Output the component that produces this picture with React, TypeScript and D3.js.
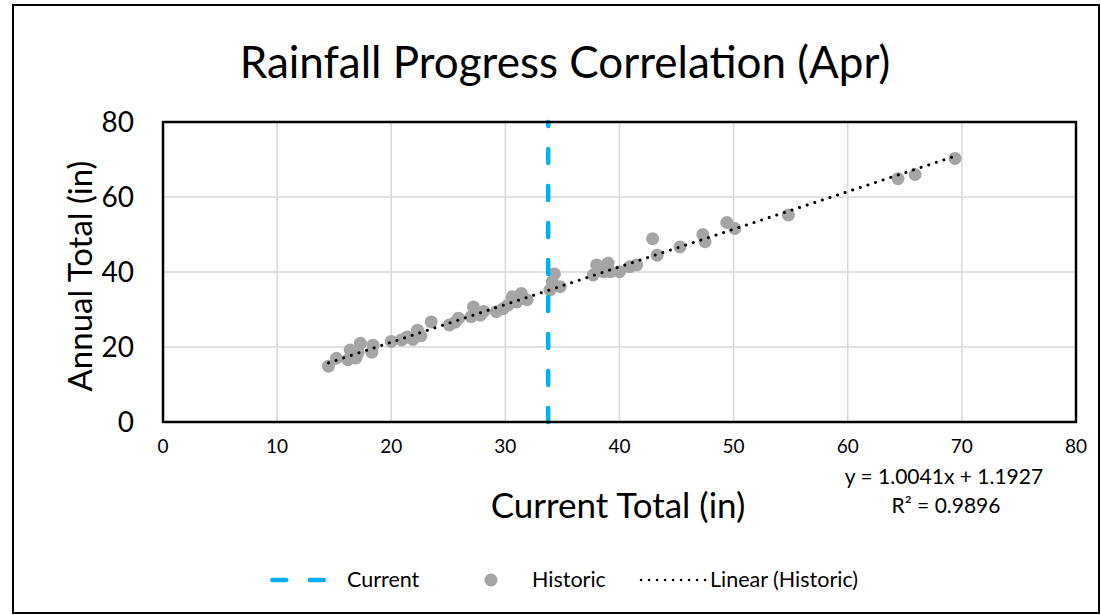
import React from "react";
import * as d3 from "d3";

// Historic (current total at end of Apr, annual total), inches
const historicX = [
  14.5, 15.2, 16.2, 16.4, 16.9, 17.3, 17.1, 18.4, 18.3, 20.0, 20.9, 21.4,
  21.9, 22.3, 22.6, 23.5, 25.1, 25.6, 25.9, 27.0, 27.2, 27.8, 28.1, 29.2,
  29.8, 30.2, 30.6, 31.0, 31.4, 31.9, 33.9, 34.1, 34.3, 34.8, 37.7, 38.0,
  38.6, 39.0, 39.2, 40.0, 40.9, 41.5, 42.9, 43.3, 45.3, 47.3, 47.5, 49.4,
  50.1, 54.8, 64.4, 65.9, 69.4,
];
const historicY = [
  14.9, 17.0, 16.6, 19.2, 17.1, 21.0, 18.5, 20.5, 18.6, 21.5, 21.9, 22.7,
  22.0, 24.5, 23.0, 26.7, 25.9, 26.6, 27.7, 28.1, 30.7, 28.5, 29.5, 29.4,
  30.2, 31.1, 33.4, 32.0, 34.3, 32.6, 35.2, 37.4, 39.5, 36.1, 39.2, 41.9,
  40.1, 42.4, 40.1, 40.1, 41.4, 41.9, 48.9, 44.5, 46.7, 50.0, 48.1, 53.2,
  51.6, 55.2, 64.9, 66.0, 70.3,
];
const currentTotal = 33.75;
const slope = 1.0041;
const intercept = 1.1927;
const rSquared = 0.9896;
const xTicks = [0, 10, 20, 30, 40, 50, 60, 70, 80];
const yTicks = [0, 20, 40, 60, 80];

const FONT = "Lato, 'Open Sans', sans-serif";
const BLUE = "#00b0f0";
const GREY = "#a5a5a5";

export default function App() {
  const W = 1101;
  const H = 615;
  const plot = { left: 163, right: 1076, top: 122, bottom: 422 };

  const x = d3.scaleLinear().domain([0, 80]).range([plot.left, plot.right]);
  const y = d3.scaleLinear().domain([0, 80]).range([plot.bottom, plot.top]);

  const points = historicX.map((v, i) => ({ x: v, y: historicY[i] }));
  const [xMin, xMax] = d3.extent(historicX) as [number, number];
  const trend = d3
    .line<number>()
    .x((d) => x(d))
    .y((d) => y(slope * d + intercept))([xMin, xMax]);

  const legendY = 580;

  return (
    <svg
      width={W}
      height={H}
      style={{ position: "absolute", left: 0, top: 0, background: "#fff" }}
      fontFamily={FONT}
    >
      <rect x={13} y={5} width={1086} height={608} fill="#fff" stroke="#000" strokeWidth={2} />

      <text x={565} y={78} textAnchor="middle" fontSize={44} fill="#000">
        Rainfall Progress Correlation (Apr)
      </text>

      {/* gridlines */}
      {yTicks.slice(1, -1).map((t) => (
        <line key={"gy" + t} x1={plot.left} x2={plot.right} y1={y(t)} y2={y(t)} stroke="#d9d9d9" strokeWidth={1.5} />
      ))}
      {xTicks.slice(1, -1).map((t) => (
        <line key={"gx" + t} x1={x(t)} x2={x(t)} y1={plot.top} y2={plot.bottom} stroke="#d9d9d9" strokeWidth={1.5} />
      ))}

      {/* historic points */}
      {points.map((p, i) => (
        <circle key={i} cx={x(p.x)} cy={y(p.y)} r={6.5} fill={GREY} />
      ))}

      {/* current */}
      <line
        x1={x(currentTotal)}
        x2={x(currentTotal)}
        y1={y(0)}
        y2={y(80)}
        stroke={BLUE}
        strokeWidth={4.5}
        strokeDasharray="14 23"
        strokeLinecap="round"
      />

      {/* linear trendline */}
      <path
        d={trend ?? ""}
        fill="none"
        stroke="#000"
        strokeWidth={3}
        strokeDasharray="0.1 7.9"
        strokeLinecap="round"
      />

      <rect
        x={plot.left}
        y={plot.top}
        width={plot.right - plot.left}
        height={plot.bottom - plot.top}
        fill="none"
        stroke="#000"
        strokeWidth={2.5}
      />

      {/* y ticks */}
      {yTicks.map((t) => (
        <text key={"ty" + t} x={134} y={y(t)} dy="0.35em" textAnchor="end" fontSize={28} fill="#000">
          {t}
        </text>
      ))}
      {/* x ticks */}
      {xTicks.map((t) => (
        <text key={"tx" + t} x={x(t)} y={453} textAnchor="middle" fontSize={19} fill="#000">
          {t}
        </text>
      ))}

      <text x={618} y={518} textAnchor="middle" fontSize={35} fill="#000">
        Current Total (in)
      </text>
      <text
        transform={`translate(92, ${(plot.top + plot.bottom) / 2 + 4}) rotate(-90)`}
        textAnchor="middle"
        fontSize={33}
        fill="#000"
      >
        Annual Total (in)
      </text>

      <text x={944} y={484} textAnchor="middle" fontSize={21} fill="#000">
        {`y = ${slope}x + ${intercept}`}
      </text>
      <text x={946} y={513} textAnchor="middle" fontSize={21} fill="#000">
        R² = {rSquared}
      </text>

      {/* legend */}
      <line x1={272.25} x2={323.75} y1={legendY} y2={legendY} stroke={BLUE} strokeWidth={4.5} strokeDasharray="14 23.5" strokeLinecap="round" />
      <text x={347} y={legendY + 7} fontSize={21.5} fill="#000">Current</text>
      <circle cx={491} cy={legendY} r={6.5} fill={GREY} />
      <text x={532} y={legendY + 7} fontSize={21.5} fill="#000">Historic</text>
      <line x1={641} x2={706} y1={legendY} y2={legendY} stroke="#000" strokeWidth={2.5} strokeDasharray="0.1 7.9" strokeLinecap="round" />
      <text x={710} y={legendY + 7} fontSize={21.5} fill="#000">Linear (Historic)</text>
    </svg>
  );
}
